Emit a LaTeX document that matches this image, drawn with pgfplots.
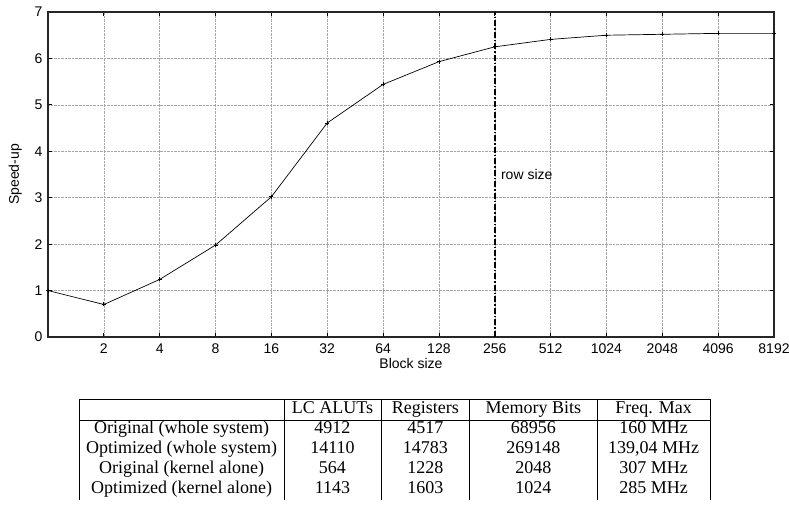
\documentclass[border=0pt]{standalone}
\usepackage{pgfplots}
\pgfplotsset{compat=1.18}
\usepackage{fontspec}
\setmainfont{Liberation Serif}
\newfontfamily\axfont{Liberation Sans}
\usepackage{array}
\newcolumntype{C}[1]{>{\centering\arraybackslash}p{#1}}

\begin{document}
\begin{tikzpicture}
\useasboundingbox (0,0) rectangle (789bp,506bp);
\begin{axis}[
  at={(48bp,169bp)}, anchor=south west,
  scale only axis, width=726bp, height=325bp,
  xmin=0, xmax=13, ymin=0, ymax=7,
  xtick={1,...,13},
  xticklabels={2,4,8,16,32,64,128,256,512,1024,2048,4096,8192},
  ytick={0,...,7},
  /pgf/number format/assume math mode=true,
  tick label style={font=\axfont\fontsize{14bp}{16bp}\selectfont},
  xticklabel style={yshift=-3bp},
  yticklabel style={xshift=-2bp},
  label style={font=\axfont\fontsize{14bp}{16bp}\selectfont},
  tick align=inside, major tick length=4bp,
  tick style={black, line width=0.8bp},
  axis line style={line width=1.2bp, black!85},
  grid=major, grid style={densely dotted, gray!70, line width=0.5bp},
  xlabel={Block size}, ylabel={Speed-up},
  xlabel style={at={(axis description cs:0.5,0)}, anchor=north, inner sep=0pt, yshift=-21bp},
  ylabel style={yshift=6bp},
]
\addplot[black, line width=0.7bp, mark=+, mark size=2bp] coordinates {
  (0,1.00) (1,0.70) (2,1.24) (3,1.98) (4,3.02) (5,4.61) (6,5.44)
  (7,5.93) (8,6.25) (9,6.41) (10,6.50) (11,6.52) (12,6.54) (13,6.54)};
% row size marker
\addplot[black, line width=1.6bp, dash pattern=on 6bp off 2bp on 1.5bp off 2bp] coordinates {(8,0) (8,7)};
\node[anchor=west, font=\axfont\fontsize{14bp}{16bp}\selectfont] at (axis cs:8.05,3.49) {row size};
\end{axis}

\node[anchor=north west, inner sep=0pt] at (79bp,107bp) {%
  \fontsize{18bp}{20bp}\selectfont
  \setlength\tabcolsep{0pt}%
  \begin{tabular}{|C{204bp}|C{97bp}|C{88bp}|C{127bp}|C{113bp}|}\hline
  \rule[-6bp]{0pt}{18bp} & LC ALUTs & Registers & Memory Bits & Freq. Max\\\hline
  Original (whole system) & 4912 & 4517 & 68956 & 160 MHz\\
  Optimized (whole system) & 14110 & 14783 & 269148 & 139,04 MHz\\
  Original (kernel alone) & 564 & 1228 & 2048 & 307 MHz\\
  Optimized (kernel alone) & 1143 & 1603 & 1024 & 285 MHz\\
  \end{tabular}};
\end{tikzpicture}
\end{document}
